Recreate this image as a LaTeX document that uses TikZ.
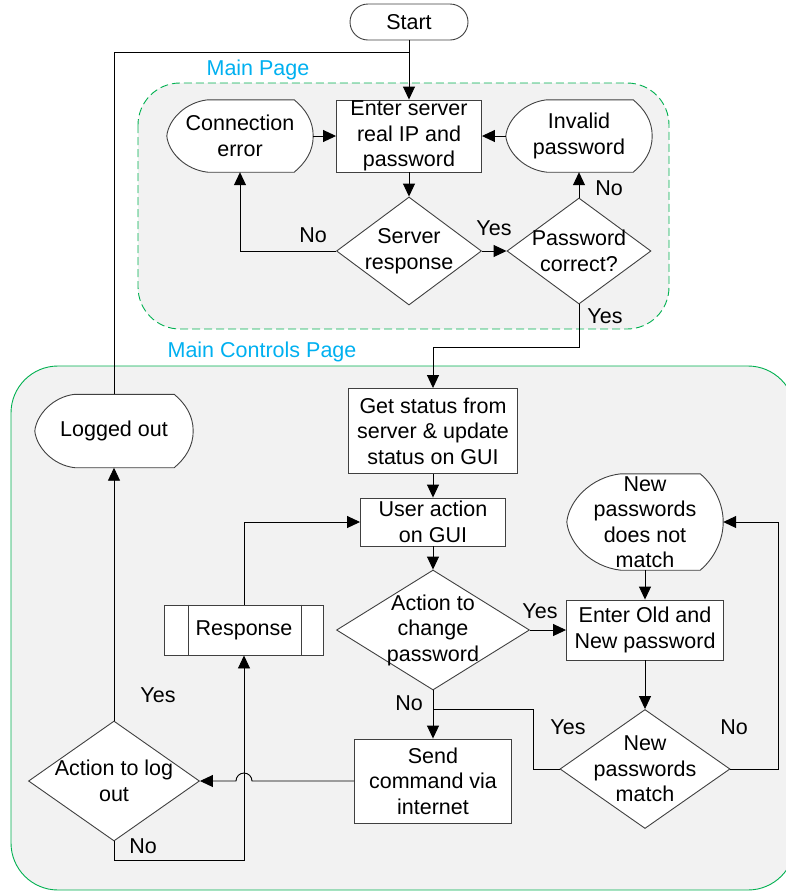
\documentclass[tikz,border=0pt]{standalone}
\usepackage{fontspec}
\setmainfont{Liberation Sans}
\usetikzlibrary{
  arrows.meta,
  calc,
  positioning,
  shapes.geometric}

\definecolor{pagegreen}{RGB}{0,176,80}
\definecolor{pageblue}{RGB}{0,176,240}
\definecolor{pagegray}{RGB}{242,242,242}
\definecolor{edgegray}{RGB}{64,64,64}

\tikzset{
  flow/.style={line width=0.9pt, draw=black},
  arr/.style={flow, -{Triangle[length=13pt,width=12pt]}},
  proc/.style={rectangle, draw=edgegray, fill=white, line width=0.9pt, align=center, inner sep=0pt},
  deci/.style={diamond, draw=edgegray, fill=white, line width=0.9pt, inner sep=0pt},
  dispfr/.style={rectangle, inner sep=0pt},
  displine/.style={draw=edgegray, fill=white, line width=0.9pt},
  txt/.style={align=center, inner sep=0pt},
  lbl/.style={inner sep=0pt},
  pagetitle/.style={text=pageblue, inner sep=0pt}
}

% display shape drawn round an empty frame node: name, left part, right part
\newcommand{\dispshape}[3]{%
  \draw[displine] ($(#1.north west)+(#2,0)$) -- ($(#1.north east)+(-#3,0)$)
    .. controls +(0.6*#3,0.5*#3) and +(0,-0.8*#3) .. (#1.east)
    .. controls +(0,0.8*#3) and +(0.6*#3,-0.5*#3) .. ($(#1.south east)+(-#3,0)$)
    -- ($(#1.south west)+(#2,0)$)
    .. controls +(-0.55*#2,-0.06*#2) and +(0.04*#2,0.4*#2) .. (#1.west)
    .. controls +(0.04*#2,-0.4*#2) and +(-0.55*#2,0.06*#2) .. ($(#1.north west)+(#2,0)$) -- cycle;}

\begin{document}
\begin{tikzpicture}[x=1pt, y=-1pt, font=\fontsize{21.5}{25.5}\selectfont]
            \useasboundingbox (0,0) rectangle (786,892);

            % page areas
            \draw[pagegreen, fill=pagegray, line width=0.9pt, dash pattern=on 8pt off 4pt, rounded corners=42pt] (138,83) rectangle (669,329);
            \draw[pagegreen, fill=pagegray, line width=0.9pt, rounded corners=47pt] (11,366) rectangle (795,890);
            \node[pagetitle] (mainpg) at (258,70) {Main Page};
            \node[pagetitle] (ctrlpg) at (262,352) {Main Controls Page};

            % main page
            \node[proc, rounded corners=18pt, minimum width=118pt, minimum height=36pt] (start) at (409,22) {Start};
            \node[proc, minimum width=145pt, minimum height=72pt] (enter) at (409,136) {Enter server\\real IP and\\password};
            \node[dispfr, minimum width=146pt, minimum height=72pt] (conerr) at (240,136) {};
            \dispshape{conerr}{41}{19}
            \node[txt] (conerrt) at (conerr) {Connection\\error};
            \node[dispfr, minimum width=146pt, minimum height=72pt] (invpw) at (579,136) {};
            \dispshape{invpw}{41}{19}
            \node[txt] (invpwt) at (invpw) {Invalid\\password};
            \node[deci, minimum width=145pt, minimum height=108pt] (srv) at (409,251) {};
            \node[txt] (srvt) at (srv) {Server\\response};
            \node[deci, minimum width=144pt, minimum height=106pt] (pwc) at (579,251) {};
            \node[txt] (pwct) at (pwc) {Password\\correct?};

            % main controls page
            \node[dispfr, minimum width=158pt, minimum height=73pt] (lgo) at (114,431) {};
            \dispshape{lgo}{40}{19}
            \node[txt] (lgot) at (lgo) {Logged out};
            \node[proc, minimum width=169pt, minimum height=85pt] (getst) at (433,431) {Get status from\\server \& update\\status on GUI};
            \node[proc, minimum width=145pt, minimum height=48pt] (user) at (433,522) {User action\\on GUI};
            \node[deci, minimum width=193pt, minimum height=120pt] (chg) at (433,630) {};
            \node[txt] (chgt) at (chg) {Action to\\change\\password};
            \node[dispfr, minimum width=156pt, minimum height=96pt] (nomatch) at (645,522) {};
            \dispshape{nomatch}{54}{23}
            \node[txt] (nomatcht) at (nomatch) {New\\passwords\\does not\\match};
            \node[proc, minimum width=157pt, minimum height=60pt] (old) at (645,630) {Enter Old and\\New password};
            \node[deci, minimum width=170pt, minimum height=119pt] (match) at (645,769) {};
            \node[txt] (matcht) at (match) {New\\passwords\\match};
            \node[proc, minimum width=157pt, minimum height=84pt] (send) at (433,781) {Send\\command via\\internet};
            \node[deci, minimum width=171pt, minimum height=120pt] (lgt) at (114,781) {};
            \node[txt] (lgtt) at (lgt) {Action to log\\out};
            \node[proc, minimum width=159pt, minimum height=50pt] (resp) at (244,630) {Response};
            \draw[edgegray, line width=0.9pt] ($(resp.north west)+(24,0)$) -- ($(resp.south west)+(24,0)$);
            \draw[edgegray, line width=0.9pt] ($(resp.north east)+(-23,0)$) -- ($(resp.south east)+(-23,0)$);

            % bends
            \coordinate (join1) at (409,52);
            \coordinate (bend1) at (579,347);
            \coordinate (loopr) at (778,769);
            \coordinate (loopl) at (533,769);
            \coordinate (joinb) at (433,709);
            \coordinate (hop) at (252,781);
            \coordinate (bendlo) at (114,860);

            % connectors
            \draw[arr] (start.south) -- (enter.north);
            \draw[flow] (lgo.north) |- (join1);
            \draw[arr] (conerr.east) -- (enter.west);
            \draw[arr] (invpw.west) -- (enter.east);
            \draw[arr] (enter.south) -- (srv.north);
            \draw[arr] (srv.west) -| (conerr.south);
            \draw[arr] (srv.east) -- (pwc.west);
            \draw[arr] (pwc.north) -- (invpw.south);
            \draw[arr] (pwc.south) -- (bend1) -| (getst.north);
            \draw[arr] (getst.south) -- (user.north);
            \draw[arr] (user.south) -- (chg.north);
            \draw[arr] (chg.east) -- (old.west);
            \draw[arr] (nomatch.south) -- (old.north);
            \draw[arr] (old.south) -- (match.north);
            \draw[arr] (match.east) -- (loopr) |- (nomatch.east);
            \draw[flow] (match.west) -- (loopl) |- (joinb);
            \draw[arr] (chg.south) -- (send.north);
            \draw[arr] (send.west) -- (hop) arc[start angle=0, end angle=-180, radius=8] -- (lgt.east);
            \draw[arr] (lgt.north) -- (lgo.south);
            \draw[arr] (lgt.south) -- (bendlo) -| (resp.south);
            \draw[arr] (resp.north) |- (user.west);

            % branch labels
            \node[lbl] (no1) at (313,235) {No};
            \node[lbl] (yes1) at (494,228) {Yes};
            \node[lbl] (no2) at (609,188) {No};
            \node[lbl] (yes2) at (605,316) {Yes};
            \node[lbl] (yes3) at (540,611) {Yes};
            \node[lbl] (no3) at (409,703) {No};
            \node[lbl] (yes4) at (568,727) {Yes};
            \node[lbl] (no4) at (734,727) {No};
            \node[lbl] (yes5) at (158,695) {Yes};
            \node[lbl] (no5) at (143,846) {No};
\end{tikzpicture}
\end{document}
